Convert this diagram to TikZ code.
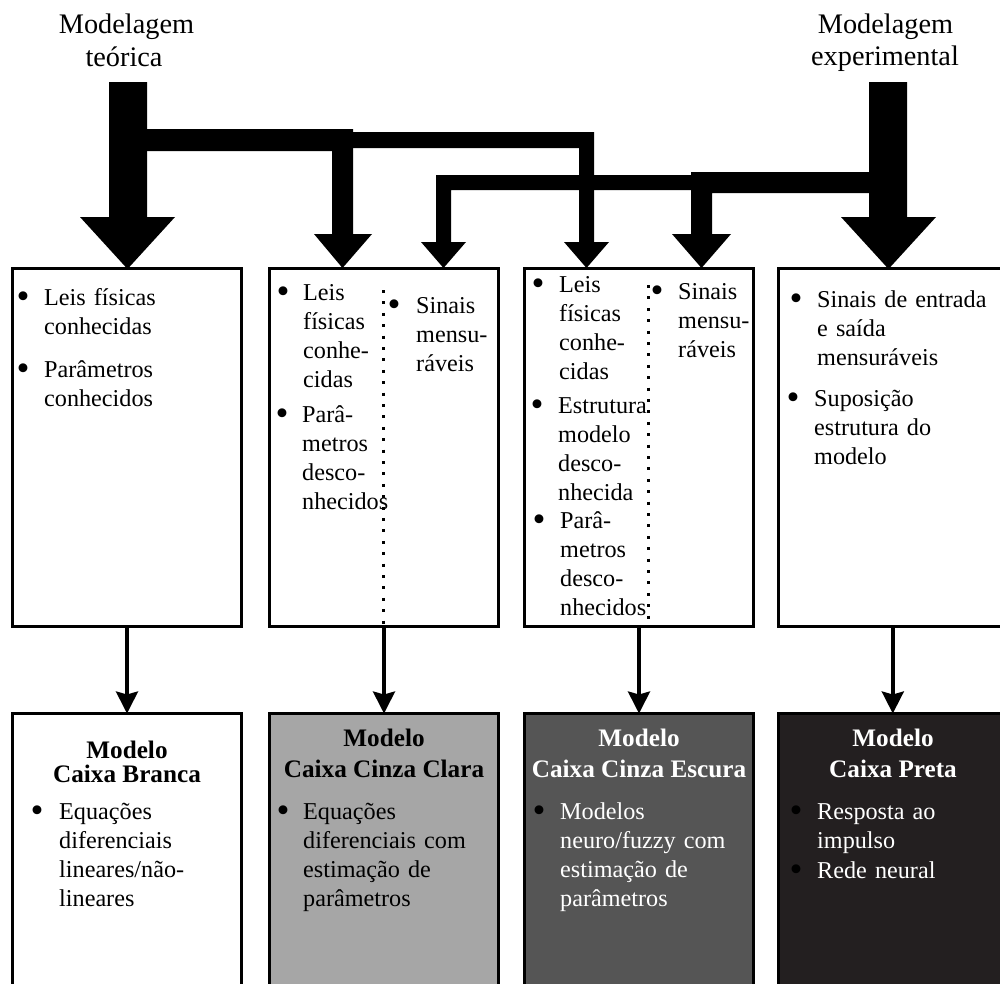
\documentclass[tikz,border=0pt]{standalone}
\usepackage{fontspec}
\setmainfont{Liberation Serif}
\usetikzlibrary{arrows.meta}
\definecolor{lgray}{HTML}{A6A6A6}
\definecolor{dgray}{HTML}{555555}
\definecolor{nblack}{HTML}{231F20}
\newcommand\bitem[5][black]{%
  \node[bul] at (#2,#4+3.5) {\textbullet};
  \node[txt,text=#1] at (#3,#4) {#5};}
\begin{document}
\begin{tikzpicture}[x=1pt,y=-1pt,
  box/.style={draw=black,line width=3pt,outer sep=0pt,inner sep=0pt,
    anchor=north west,minimum width=229pt},
  topbox/.style={box,minimum height=358.5pt},
  botbox/.style={box,minimum height=320pt},
  bul/.style={anchor=base,inner sep=0pt,font=\fontsize{37}{37}\selectfont},
  txt/.style={anchor=base west,inner sep=0pt,align=left,text width=215pt,
    font=\fontsize{24.2}{29.3}\selectfont},
  ttl/.style={anchor=base,inner sep=0pt,font=\bfseries\fontsize{25.2}{30}\selectfont},
  lbl/.style={anchor=base,inner sep=0pt,font=\fontsize{28.3}{33}\selectfont},
  blk/.style={fill=black,draw=none},
  dots/.style={line width=3pt,dash pattern=on 3pt off 8.4pt},
  conn/.style={line width=3.5pt,-{Stealth[length=22pt,width=22pt,inset=3pt]}}]
\useasboundingbox (0,0) rectangle (1000,983);
\clip (0,0) rectangle (1000,983);

% labels
\node[lbl] (teo1) at (126.5,33) {Modelagem};
\node[lbl] (teo2) at (124,66) {teórica};
\node[lbl] (exp1) at (885.5,33) {Modelagem};
\node[lbl] (exp2) at (885,65) {experimental};

% block arrows
\fill[blk] (109,82) -- (147,82) -- (147,217) -- (175,217) -- (127.5,269)
  -- (80,217) -- (109,217) -- cycle;
\fill[blk] (140,129) -- (353,129) -- (353,234) -- (372,234) -- (342.5,268)
  -- (314,234) -- (332,234) -- (332,151) -- (140,151) -- cycle;
\fill[blk] (350,132) -- (594,132) -- (594,242) -- (609,242) -- (586.5,268)
  -- (564,242) -- (579,242) -- (579,148) -- (350,148) -- cycle;
\fill[blk] (869,82) -- (907,82) -- (907,217) -- (936,217) -- (888.5,269)
  -- (841,217) -- (869,217) -- cycle;
\fill[blk] (875,172) -- (691,172) -- (691,234) -- (672,234) -- (701.5,268)
  -- (731,234) -- (712,234) -- (712,193) -- (875,193) -- cycle;
\fill[blk] (695,175) -- (436,175) -- (436,242) -- (421,242) -- (443.5,268)
  -- (466,242) -- (451,242) -- (451,190) -- (695,190) -- cycle;

% top boxes
\node[topbox] (b1) at (12.5,268) {};
\node[topbox] (b2) at (269.5,268) {};
\node[topbox] (b3) at (524.5,268) {};
\node[topbox] (b4) at (778.3,268) {};

% bottom boxes
\node[botbox,fill=white] (c1) at (12.5,713.5) {};
\node[botbox,fill=lgray] (c2) at (269.5,713.5) {};
\node[botbox,fill=dgray] (c3) at (524.5,713.5) {};
\node[botbox,fill=nblack] (c4) at (778.3,713.5) {};

% connectors
\draw[conn] (b1.south) -- (c1.north);
\draw[conn] (b2.south) -- (c2.north);
\draw[conn] (b3.south) -- (c3.north);
\draw[conn] (b4.south) -- (c4.north);

% dotted separators
\draw[dots] (383,290) -- (383,626.5);
\draw[dots] (648,285) -- (648,626.5);

% box 1
\bitem{23}{44}{305}{Leis físicas\\conhecidas}
\bitem{23}{44}{377}{Parâmetros\\conhecidos}
% box 2
\bitem{283}{303}{300}{Leis\\físicas\\conhe-\\cidas}
\bitem{282}{302}{422}{Parâ-\\metros\\desco-\\nhecidos}
\bitem{394}{416}{313}{Sinais\\mensu-\\ráveis}
% box 3
\bitem{538}{559}{292}{Leis\\físicas\\conhe-\\cidas}
\bitem{537}{558}{413}{Estrutura\\modelo\\desco-\\nhecida}
\bitem{539}{560}{528}{Parâ-\\metros\\desco-\\nhecidos}
\bitem{657}{678}{299}{Sinais\\mensu-\\ráveis}
% box 4
\bitem{796}{817}{307}{Sinais de entrada\\e saída\\mensuráveis}
\bitem{793}{814}{406}{Suposição\\estrutura do\\modelo}

% bottom box 1
\node[ttl] (t1a) at (127,758) {Modelo};
\node[ttl] (t1b) at (127,782) {Caixa Branca};
\bitem{37}{59}{819}{Equações\\diferenciais\\lineares/não-\\lineares}
% bottom box 2
\node[ttl] (t2a) at (384,746) {Modelo};
\node[ttl] (t2b) at (384,777) {Caixa Cinza Clara};
\bitem{283}{303}{819}{Equações\\diferenciais com\\estimação de\\parâmetros}
% bottom boxes 3 and 4
\node[ttl,text=white] (t3a) at (639,746) {Modelo};
\node[ttl,text=white] (t3b) at (639,777) {Caixa Cinza Escura};
\node[ttl,text=white] (t4a) at (893,746) {Modelo};
\node[ttl,text=white] (t4b) at (893,777) {Caixa Preta};
\bitem[white]{539}{560}{819}{Modelos\\neuro/fuzzy com\\estimação de\\parâmetros}
\bitem[white]{796}{817}{819}{Resposta ao\\impulso}
\bitem[white]{796}{817}{878}{Rede neural}
\end{tikzpicture}
\end{document}
